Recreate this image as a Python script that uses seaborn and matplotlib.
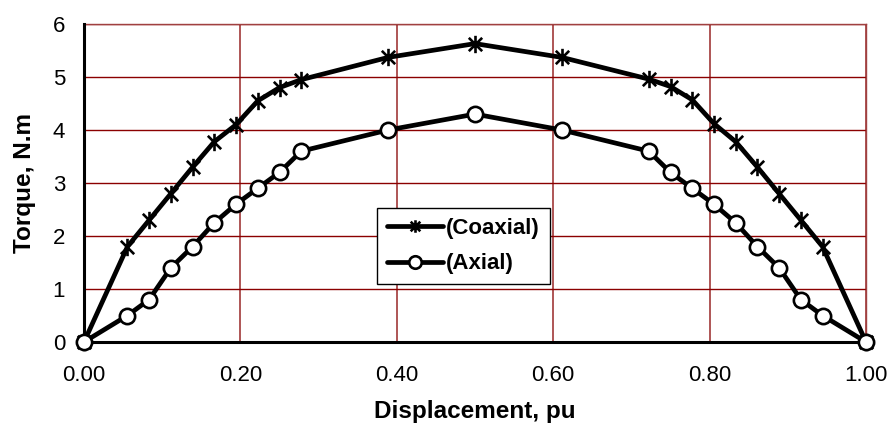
import numpy as np
import pandas as pd
import seaborn as sns
import matplotlib.pyplot as plt
from matplotlib.path import Path
from matplotlib.ticker import FormatStrFormatter

# displacement positions (pu), multiples of 1/36
displacement = [0.0, 0.0556, 0.0833, 0.1111, 0.1389, 0.1667, 0.1944, 0.2222, 0.25, 0.2778,
                0.3889, 0.5, 0.6111, 0.7222, 0.75, 0.7778, 0.8056, 0.8333, 0.8611, 0.8889,
                0.9167, 0.9444, 1.0]
torque_coaxial = [0.0, 1.8, 2.3, 2.8, 3.3, 3.78, 4.1, 4.55, 4.8, 4.95,
                  5.37, 5.63, 5.37, 4.96, 4.82, 4.57, 4.12, 3.78, 3.3, 2.8,
                  2.3, 1.8, 0.0]
torque_axial = [0.0, 0.5, 0.8, 1.4, 1.8, 2.25, 2.6, 2.9, 3.2, 3.6,
                4.0, 4.3, 4.0, 3.6, 3.2, 2.9, 2.6, 2.25, 1.8, 1.4,
                0.8, 0.5, 0.0]
labels = ["(Coaxial)", "(Axial)"]

df = pd.DataFrame({
    "Displacement": displacement * 2,
    "Torque": torque_coaxial + torque_axial,
    "series": [labels[0]] * len(displacement) + [labels[1]] * len(displacement),
})

sns.set_style("white")
plt.rcParams['font.family'] = ['Liberation Sans', 'DejaVu Sans']
plt.rcParams['text.color'] = 'black'
plt.rcParams['axes.labelcolor'] = 'black'
plt.rcParams['xtick.color'] = 'black'
plt.rcParams['ytick.color'] = 'black'

# excel-like star marker: X plus a vertical bar
star = Path([(-1, -1), (1, 1), (-1, 1), (1, -1), (0, -1.3), (0, 1.3)],
            [Path.MOVETO, Path.LINETO, Path.MOVETO, Path.LINETO, Path.MOVETO, Path.LINETO])

fig = plt.figure(figsize=(8.92, 4.30), dpi=100)
ax = fig.add_axes([84 / 892, 88 / 430, 782 / 892, 318 / 430])

sns.lineplot(data=df[df.series == labels[0]], x="Displacement", y="Torque", ax=ax,
             color="black", lw=3.4, marker=star, ms=12.5, mew=1.9, mec="black",
             label=labels[0], clip_on=False, zorder=4)
sns.lineplot(data=df[df.series == labels[1]], x="Displacement", y="Torque", ax=ax,
             color="black", lw=3.4, marker="o", ms=11, mew=1.9, mec="black", mfc="white",
             label=labels[1], clip_on=False, zorder=4)

ax.set_xlim(0, 1)
ax.set_ylim(0, 6)
ax.set_xticks(np.arange(0, 1.01, 0.2))
ax.set_yticks(range(0, 7))
ax.xaxis.set_major_formatter(FormatStrFormatter('%.2f'))
ax.xaxis.grid(True, color="#a84848", lw=1.3)
ax.yaxis.grid(True, color="#8b0000", lw=1)
ax.set_axisbelow(True)

for s in ["top", "right"]:
    ax.spines[s].set_color("#a04040")
    ax.spines[s].set_linewidth(1)
for s in ["left", "bottom"]:
    ax.spines[s].set_color("black")
    ax.spines[s].set_linewidth(2.2)
    ax.spines[s].set_zorder(3)

ax.tick_params(axis="both", direction="inout", length=9, width=2, labelsize=16)
ax.tick_params(axis="x", pad=12)
ax.tick_params(axis="y", pad=9)
ax.set_xlabel("Displacement, pu", fontsize=17.5, fontweight="bold", labelpad=10)
ax.set_ylabel("Torque, N.m", fontsize=17.5, fontweight="bold", labelpad=12)

leg = ax.legend(loc="upper left", bbox_to_anchor=(377 / 892, 222 / 430),
                bbox_transform=fig.transFigure, fancybox=False, framealpha=1,
                edgecolor="black", prop={"weight": "bold", "size": 16},
                handlelength=2.5, handletextpad=0.15, borderpad=0.45, labelspacing=0.65,
                borderaxespad=0)
leg.get_frame().set_linewidth(1)
for h in leg.legend_handles:
    h.set_markersize(9)

fig.savefig("out.png", dpi=100)
